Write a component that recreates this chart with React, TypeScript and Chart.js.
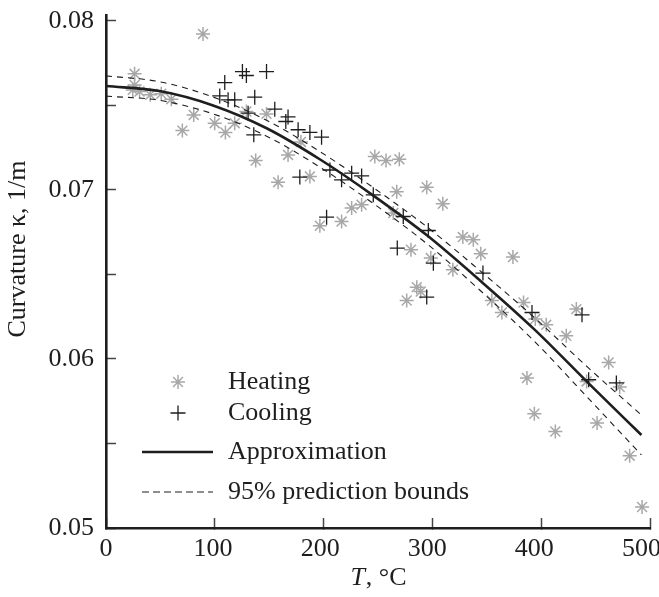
import { useEffect, useRef } from 'react';
import { Chart, registerables } from 'chart.js';

Chart.register(...registerables);

// ---- data ----
const curveT = [0, 50, 100, 150, 200, 250, 300, 350, 400, 450, 500];
const approximation = [0.07615, 0.07585, 0.07500, 0.07365, 0.07180, 0.06965, 0.06730, 0.06460, 0.06175, 0.05860, 0.05550];
const upperBound = [0.07675, 0.07640, 0.07550, 0.07412, 0.07226, 0.07012, 0.06780, 0.06518, 0.06245, 0.05950, 0.05668];
const lowerBound = [0.07555, 0.07530, 0.07450, 0.07318, 0.07134, 0.06918, 0.06680, 0.06402, 0.06105, 0.05770, 0.05432];

const heatingT = [90.6, 26.7, 26.7, 25, 31.3, 41.3, 51.6, 61, 81.9, 71.3, 101.5, 111.5, 120.2, 131.1, 149.9, 139.8, 160.7, 170, 182, 190.4,
  251, 261.5, 273.9, 229.4, 238.7, 220, 199.7, 271.5, 268.3, 284.8, 299.5, 314.5, 333.2, 343, 303.3, 323.9, 290.2, 293.9, 280.8,
  350, 380, 360.3, 369.7, 389.9, 400.9, 411.1, 429.8, 439.2, 469.4, 479.7, 393.1, 400, 419.6, 458.6, 489, 500.6, 448.8];
const heatingK = [0.07923, 0.07687, 0.07621, 0.07592, 0.07582, 0.07563, 0.07569, 0.07537, 0.07444, 0.07351, 0.07395, 0.07340, 0.07395, 0.07464, 0.07450, 0.07174, 0.07046, 0.07207, 0.07284, 0.07080,
  0.07198, 0.07174, 0.07182, 0.06893, 0.06912, 0.06813, 0.06788, 0.06990, 0.06863, 0.06646, 0.07016, 0.06918, 0.06721, 0.06705, 0.06597, 0.06528, 0.06425, 0.06399, 0.06346,
  0.06622, 0.06603, 0.06346, 0.06275, 0.06334, 0.06236, 0.06202, 0.06137, 0.06295, 0.05979, 0.05834, 0.05887, 0.05676, 0.05571, 0.05621, 0.05428, 0.05124, 0.05867];

const coolingT = [127.4, 131.1, 149.9, 110.9, 106.2, 114, 120.2, 138.9, 132.7, 157.6, 167.9, 138, 170, 179.4, 190.4, 201.3, 181, 209.1, 220, 229.4,
  238.7, 206, 249.6, 277.6, 301, 272, 305.7, 299.5, 352, 397.8, 444.5, 450.7, 476.6];
const coolingK = [0.07700, 0.07677, 0.07700, 0.07635, 0.07556, 0.07533, 0.07533, 0.07549, 0.07454, 0.07478, 0.07405, 0.07326, 0.07432, 0.07356, 0.07340, 0.07312, 0.07076, 0.07118, 0.07060, 0.07099,
  0.07083, 0.06839, 0.06971, 0.06843, 0.06760, 0.06656, 0.06567, 0.06366, 0.06508, 0.06275, 0.06261, 0.05877, 0.05858];

const yLabelValues = [0.05, 0.06, 0.07, 0.08];
const xLabelValues = [0, 100, 200, 300, 400, 500];

const legendLabels = ['Heating', 'Cooling', 'Approximation', '95% prediction bounds'];
const yTitle = 'Curvature \u03ba, 1/m';
const xTitleItalic = 'T';
const xTitleRest = ', \u00b0C';

const FONT = '"Liberation Serif", "Times New Roman", serif';
const INK = '#1e1e1e';
const GRAY = '#a8a8a8';

function toPoints(xs: number[], ys: number[]) {
  return xs.map((x, i) => ({ x, y: ys[i] }));
}

function drawStar(ctx: CanvasRenderingContext2D, x: number, y: number, r: number) {
  ctx.beginPath();
  for (let k = 0; k < 4; k++) {
    const a = (k * Math.PI) / 4;
    ctx.moveTo(x - r * Math.cos(a), y - r * Math.sin(a));
    ctx.lineTo(x + r * Math.cos(a), y + r * Math.sin(a));
  }
  ctx.stroke();
}

function drawCross(ctx: CanvasRenderingContext2D, x: number, y: number, r: number) {
  ctx.beginPath();
  ctx.moveTo(x - r, y);
  ctx.lineTo(x + r, y);
  ctx.moveTo(x, y - r);
  ctx.lineTo(x, y + r);
  ctx.stroke();
}

const overlayPlugin = {
  id: 'overlay',
  afterDraw(chart: any) {
    const ctx: CanvasRenderingContext2D = chart.ctx;
    ctx.save();
    ctx.fillStyle = INK;
    ctx.textBaseline = 'middle';

    // x tick labels
    const xs = chart.scales.x;
    ctx.font = `26px ${FONT}`;
    ctx.textAlign = 'center';
    xLabelValues.forEach((v) => {
      ctx.fillText(String(v), xs.getPixelForValue(v), chart.chartArea.bottom + 21);
    });

    // y axis title
    ctx.save();
    ctx.font = `26px ${FONT}`;
    ctx.translate(18, 249);
    ctx.rotate(-Math.PI / 2);
    ctx.textAlign = 'center';
    ctx.fillText(yTitle, 0, 0);
    ctx.restore();

    // x axis title
    const cx = (chart.chartArea.left + chart.chartArea.right) / 2;
    ctx.font = `italic 26px ${FONT}`;
    const w1 = ctx.measureText(xTitleItalic).width;
    ctx.font = `26px ${FONT}`;
    const w2 = ctx.measureText(xTitleRest).width;
    const sx = cx - (w1 + w2) / 2;
    ctx.textAlign = 'left';
    ctx.font = `italic 26px ${FONT}`;
    ctx.fillText(xTitleItalic, sx, 578);
    ctx.font = `26px ${FONT}`;
    ctx.fillText(xTitleRest, sx + w1 + 1, 578);

    // legend
    const rows = [382, 413, 452, 492];
    const symX = 178;
    const lineX0 = 142;
    const lineX1 = 213;
    const textX = 228;

    ctx.strokeStyle = GRAY;
    ctx.lineWidth = 1.5;
    drawStar(ctx, symX, rows[0], 7);
    ctx.strokeStyle = INK;
    ctx.lineWidth = 1.3;
    drawCross(ctx, symX, rows[1], 7.5);

    ctx.lineWidth = 2.5;
    ctx.beginPath();
    ctx.moveTo(lineX0, rows[2]);
    ctx.lineTo(lineX1, rows[2]);
    ctx.stroke();

    ctx.lineWidth = 1.1;
    ctx.setLineDash([7, 4]);
    ctx.beginPath();
    ctx.moveTo(lineX0, rows[3]);
    ctx.lineTo(lineX1, rows[3]);
    ctx.stroke();
    ctx.setLineDash([]);

    ctx.font = `26px ${FONT}`;
    ctx.fillStyle = INK;
    legendLabels.forEach((t, i) => ctx.fillText(t, textX, rows[i]));
    ctx.restore();
  },
};

export default function App() {
  const ref = useRef<HTMLCanvasElement | null>(null);

  useEffect(() => {
    if (!ref.current) return;
    Chart.defaults.font.family = FONT;
    const chart = new Chart(ref.current, {
      type: 'scatter',
      data: {
        datasets: [
          {
            label: 'Approximation',
            data: toPoints(curveT, approximation),
            showLine: true,
            borderColor: INK,
            borderWidth: 2.6,
            pointRadius: 0,
            cubicInterpolationMode: 'monotone',
          },
          {
            label: 'Upper bound',
            data: toPoints(curveT, upperBound),
            showLine: true,
            borderColor: INK,
            borderWidth: 1.1,
            borderDash: [6, 5],
            pointRadius: 0,
            cubicInterpolationMode: 'monotone',
          },
          {
            label: 'Lower bound',
            data: toPoints(curveT, lowerBound),
            showLine: true,
            borderColor: INK,
            borderWidth: 1.1,
            borderDash: [6, 5],
            pointRadius: 0,
            cubicInterpolationMode: 'monotone',
          },
          {
            label: 'Cooling',
            data: toPoints(coolingT, coolingK),
            pointStyle: 'cross',
            pointRadius: 7.5,
            borderColor: INK,
            borderWidth: 1.3,
            backgroundColor: INK,
          },
          {
            label: 'Heating',
            data: toPoints(heatingT, heatingK),
            pointStyle: 'star',
            pointRadius: 7,
            borderColor: GRAY,
            borderWidth: 1.5,
            backgroundColor: GRAY,
          },
        ],
      } as any,
      options: {
        animation: false,
        responsive: false,
        events: [],
        layout: { padding: { top: 15, right: 9, left: 0, bottom: 0 } },
        plugins: { legend: { display: false }, tooltip: { enabled: false } },
        scales: {
          x: {
            type: 'linear',
            min: 0,
            max: 508,
            afterFit: (s: any) => { s.height = 69; s.paddingLeft = 0; s.paddingRight = 0; },
            border: { display: true, color: INK, width: 2.6 },
            grid: { drawOnChartArea: false, drawTicks: true, tickLength: -10, tickWidth: 1.5, tickColor: '#444' },
            ticks: {
              stepSize: 100,
              includeBounds: false,
              autoSkip: false,
              maxRotation: 0,
              minRotation: 0,
              callback: () => '',
            },
          },
          y: {
            type: 'linear',
            min: 0.05,
            max: 0.08035,
            afterFit: (s: any) => { s.width = 106; s.paddingTop = 0; s.paddingBottom = 0; },
            border: { display: true, color: INK, width: 2.6 },
            grid: { drawOnChartArea: false, drawTicks: true, tickLength: -10, tickWidth: 1.5, tickColor: '#444' },
            ticks: {
              stepSize: 0.005,
              includeBounds: false,
              autoSkip: false,
              padding: 22,
              color: INK,
              font: { size: 26, family: FONT },
              callback: (_v: any, i: number, ticks: any[]) => {
                const n = Number(ticks[i].value);
                const hit = yLabelValues.find((t) => Math.abs(t - n) < 1e-6);
                return hit !== undefined ? hit.toFixed(2) : '';
              },
            },
          },
        },
      } as any,
      plugins: [overlayPlugin],
    });
    return () => chart.destroy();
  }, []);

  return (
    <div style={{ position: 'absolute', left: 0, top: 0, width: 659, height: 597, background: '#fff' }}>
      <canvas ref={ref} width={659} height={597} style={{ width: 659, height: 597, display: 'block' }} />
    </div>
  );
}
